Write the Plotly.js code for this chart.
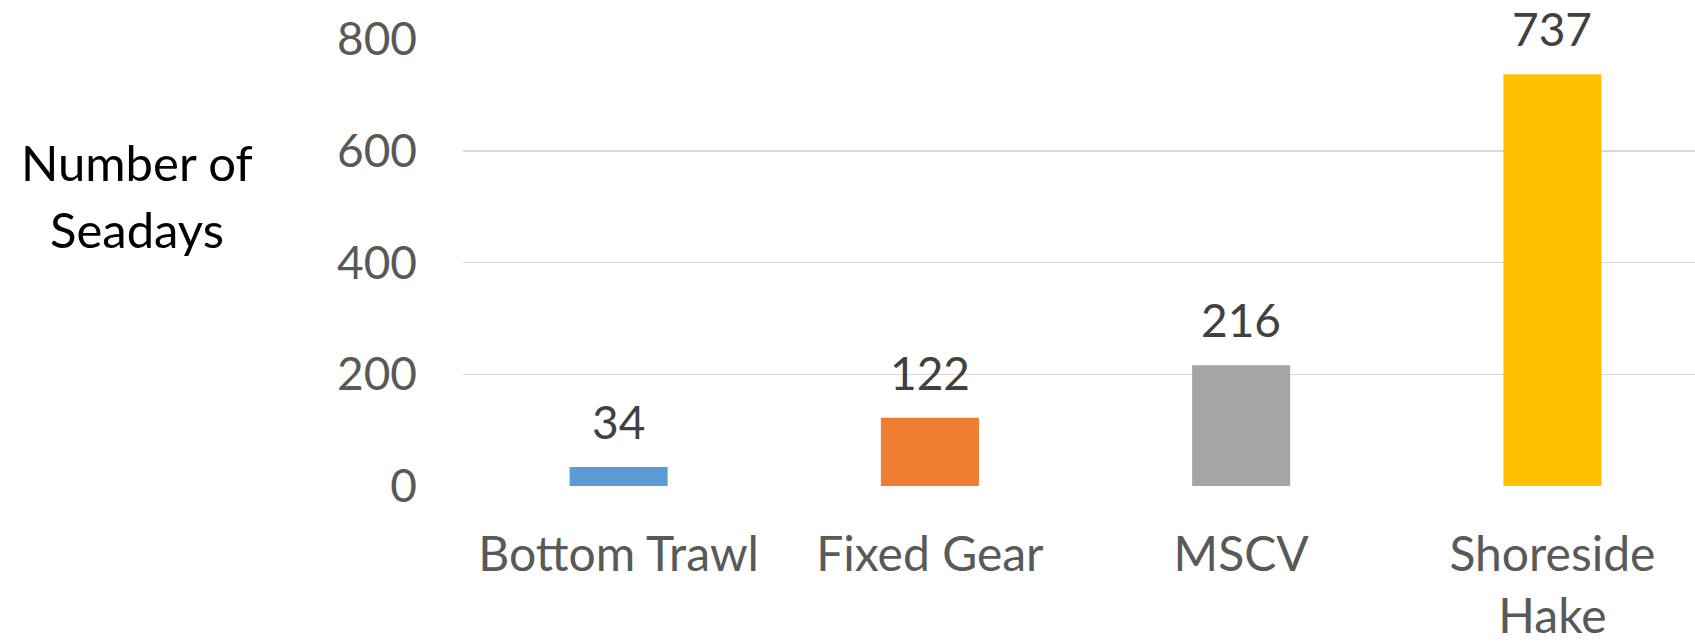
<!DOCTYPE html>
<html>
<head>
<meta charset="utf-8">
<script src="https://cdn.plot.ly/plotly-3.0.1.min.js"></script>
<style>html,body{margin:0;padding:0;background:#fff;}#chart{width:1695px;height:644px;}</style>
</head>
<body>
<div id="chart"></div>
<script>
const categories = ["Bottom Trawl", "Fixed Gear", "MSCV", "Shoreside<br>Hake"];
const seadays = [34, 122, 216, 737];
const barColors = ["#5B9BD5", "#ED7D31", "#A5A5A5", "#FFC000"];
const yTicks = [0, 200, 400, 600, 800];
const yTitleLines = ["Number of", "Seadays"];

const FONT = "Lato, 'Open Sans', sans-serif";

const trace = {
  type: "bar",
  x: categories,
  y: seadays,
  marker: {color: barColors},
  width: 0.315,
  hoverinfo: "none"
};

const annotations = categories.map((c, i) => ({
  x: c, y: seadays[i], xref: "x", yref: "y",
  text: String(seadays[i]),
  showarrow: false, yanchor: "bottom", yshift: 16,
  font: {family: FONT, size: 46, color: "#404040"}
}));
const titleY = [0.725, 0.575];
yTitleLines.forEach((t, i) => annotations.push({
  xref: "paper", yref: "paper", x: -0.265, y: titleY[i],
  xanchor: "center", yanchor: "middle", showarrow: false,
  text: t,
  font: {family: FONT, size: 49, color: "#000000"}
}));

const layout = {
  width: 1695, height: 644,
  margin: {l: 463, r: 0, t: 39, b: 157.5, pad: 0},
  paper_bgcolor: "#ffffff", plot_bgcolor: "#ffffff",
  showlegend: false,
  xaxis: {
    type: "category",
    range: [-0.5, 3.458],
    showgrid: false, zeroline: false, showline: false,
    ticks: "", ticklabelstandoff: 36,
    tickfont: {family: FONT, size: 48, color: "#595959"}
  },
  yaxis: {
    range: [0, 800],
    tickvals: yTicks,
    ticktext: yTicks.map(String),
    showgrid: true, gridcolor: "#D9D9D9", gridwidth: 1.5,
    zeroline: false, showline: false,
    ticks: "", ticklabelstandoff: 45,
    tickfont: {family: FONT, size: 46, color: "#595959"}
  },
  annotations: annotations
};

Plotly.newPlot("chart", [trace], layout, {displayModeBar: false, staticPlot: true});
</script>
</body>
</html>
